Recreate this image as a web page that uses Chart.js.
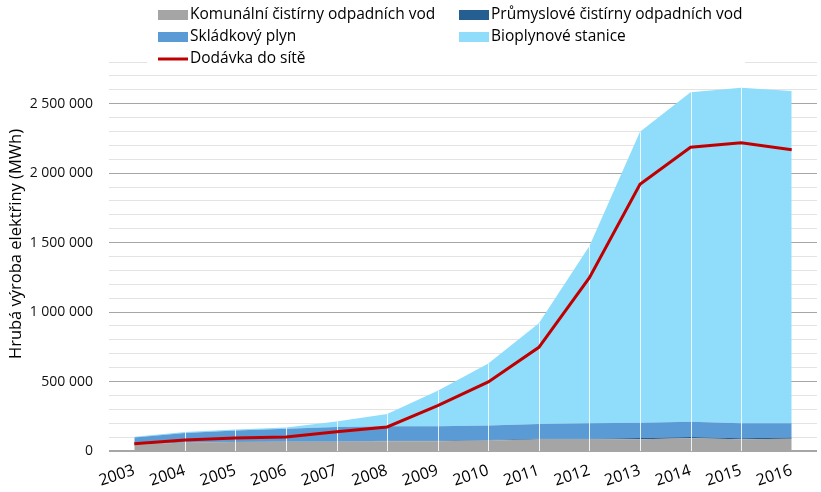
<!DOCTYPE html>
<html lang="cs">
    <head>
        <meta charset="UTF-8" />
        <title>Hrubá výroba elektřiny z bioplynu</title>
        <script src="https://cdn.jsdelivr.net/npm/chart.js"></script>
        <style>
            body {
                margin: 0;
                background: #fff;
            }
            .chart-container {
                width: 821px;
                height: 492px;
            }
        </style>
    </head>
    <body>
        <div class="chart-container">
            <canvas id="bioChart"></canvas>
        </div>

        <script>
            // data (MWh)
            const years = ["2003", "2004", "2005", "2006", "2007", "2008", "2009", "2010", "2011", "2012", "2013", "2014", "2015", "2016"];
            const komunalni = [45000, 62000, 65000, 66000, 66000, 70000, 70000, 76000, 82000, 82000, 85000, 92000, 85000, 88000];
            const prumyslove = [2000, 2000, 2000, 2000, 3000, 3000, 4000, 4000, 6000, 6000, 8000, 9000, 7000, 10000];
            const skladkovy = [50000, 66000, 81000, 92000, 103000, 105000, 104000, 104000, 106000, 111000, 110000, 109000, 107000, 101000];
            const bioplynove = [5000, 6000, 7000, 10000, 41000, 88000, 256000, 446000, 726000, 1276000, 2095000, 2373000, 2415000, 2393000];
            const dodavka = [52000, 79000, 94000, 101000, 139000, 173000, 326000, 497000, 746000, 1248000, 1920000, 2186000, 2219000, 2169000];

            const yMax = 2800000;
            const yStep = 100000;
            const yMajor = 500000;

            const FONT = "'Open Sans', sans-serif";

            function formatNumber(v) {
                return v.toString().replace(/\B(?=(\d{3})+(?!\d))/g, " ");
            }

            function area(label, data, color, fill) {
                return {
                    label: label,
                    data: data,
                    backgroundColor: color,
                    borderColor: color,
                    borderWidth: 0,
                    pointRadius: 0,
                    tension: 0,
                    fill: fill,
                    stack: "areas",
                    order: 1,
                };
            }

            // white drop lines through the areas, legend box and y title
            const extras = {
                id: "extras",
                afterDatasetDraw(chart, args) {
                    if (args.index !== 0) return;
                    const ctx = chart.ctx;
                    const top = chart.getDatasetMeta(3).data;
                    const yZero = chart.scales.y.getPixelForValue(0);
                    ctx.save();
                    ctx.strokeStyle = "rgba(255,255,255,0.85)";
                    ctx.lineWidth = 1;
                    for (let i = 1; i < top.length - 1; i++) {
                        const x = Math.round(top[i].x) + 0.5;
                        ctx.beginPath();
                        ctx.moveTo(x, top[i].y);
                        ctx.lineTo(x, yZero);
                        ctx.stroke();
                    }
                    ctx.restore();
                },
                afterDraw(chart) {
                    const ctx = chart.ctx;
                    const ds = chart.data.datasets;
                    ctx.save();
                    ctx.fillStyle = "#fff";
                    ctx.fillRect(147, 0, 598, 68);

                    const cols = [158, 459];
                    const rows = [15, 37, 59];
                    ctx.font = "15.5px " + FONT;
                    ctx.textBaseline = "middle";
                    ds.forEach((d, i) => {
                        const x = cols[i % 2];
                        const y = rows[Math.floor(i / 2)];
                        if (d.stack === "line") {
                            ctx.strokeStyle = d.borderColor;
                            ctx.lineWidth = 3;
                            ctx.beginPath();
                            ctx.moveTo(x, y);
                            ctx.lineTo(x + 30, y);
                            ctx.stroke();
                        } else {
                            ctx.fillStyle = d.backgroundColor;
                            ctx.fillRect(x, y - 5, 30, 10);
                        }
                        ctx.fillStyle = "#000";
                        ctx.fillText(d.label, x + 32, y);
                    });

                    ctx.translate(16, 244);
                    ctx.rotate(-Math.PI / 2);
                    ctx.textAlign = "center";
                    ctx.font = "16.5px " + FONT;
                    ctx.fillStyle = "#000";
                    ctx.fillText("Hrubá výroba elektřiny (MWh)", 0, 0);
                    ctx.restore();
                },
            };

            new Chart(document.getElementById("bioChart"), {
                type: "line",
                data: {
                    labels: years,
                    datasets: [
                        area("Komunální čistírny odpadních vod", komunalni, "#a5a5a5", "origin"),
                        area("Průmyslové čistírny odpadních vod", prumyslove, "#255e91", "-1"),
                        area("Skládkový plyn", skladkovy, "#5b9bd5", "-1"),
                        area("Bioplynové stanice", bioplynove, "#8fddfb", "-1"),
                        {
                            type: "line",
                            label: "Dodávka do sítě",
                            data: dodavka,
                            borderColor: "#c00000",
                            backgroundColor: "#c00000",
                            borderWidth: 3,
                            pointRadius: 0,
                            tension: 0,
                            fill: false,
                            stack: "line",
                            order: 0,
                        },
                    ],
                },
                options: {
                    responsive: true,
                    maintainAspectRatio: false,
                    animation: false,
                    layout: {
                        padding: { left: 29, right: 4, top: 62, bottom: 0 },
                    },
                    plugins: {
                        legend: { display: false },
                        tooltip: { enabled: false },
                    },
                    scales: {
                        x: {
                            offset: true,
                            grid: { display: false },
                            border: { display: false },
                            afterFit: (scale) => {
                                scale.height = 41;
                            },
                            ticks: {
                                color: "#000",
                                font: { family: FONT, size: 16 },
                                minRotation: 18,
                                maxRotation: 18,
                                padding: 2,
                            },
                        },
                        y: {
                            stacked: true,
                            min: 0,
                            max: yMax,
                            border: { display: false },
                            afterFit: (scale) => {
                                scale.width = 80;
                            },
                            grid: {
                                drawTicks: false,
                                color: (ctx) => (ctx.tick && ctx.tick.value % yMajor === 0 ? "#a6a6a6" : "#e3e3e3"),
                                lineWidth: (ctx) => (ctx.tick && ctx.tick.value === 0 ? 2 : 1),
                            },
                            ticks: {
                                stepSize: yStep,
                                autoSkip: false,
                                padding: 16,
                                color: "#111",
                                font: { family: FONT, size: 14 },
                                callback: (v) => (v % yMajor === 0 && v <= 2500000 ? formatNumber(v) : ""),
                            },
                        },
                    },
                },
                plugins: [extras],
            });
        </script>
    </body>
</html>
